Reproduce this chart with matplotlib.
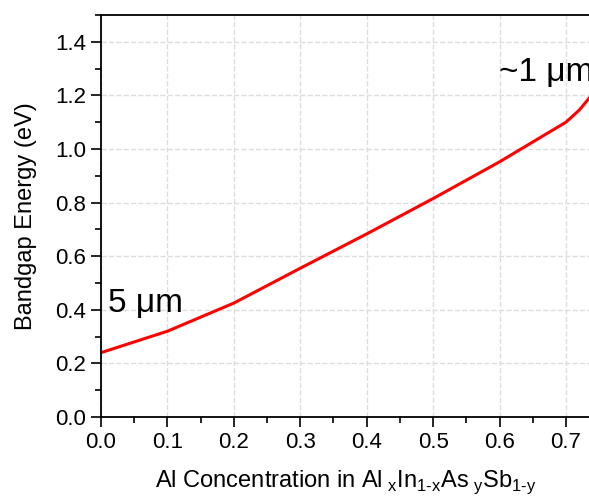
import matplotlib
matplotlib.use('Agg')
import matplotlib.pyplot as plt
from matplotlib.ticker import MultipleLocator, FormatStrFormatter

plt.rcParams['font.family'] = ['Liberation Sans', 'DejaVu Sans']
plt.rcParams['mathtext.fontset'] = 'custom'
plt.rcParams['mathtext.rm'] = 'Liberation Sans'

# bandgap vs Al fraction
al_frac = [0.0, 0.1, 0.2, 0.3, 0.4, 0.5, 0.6, 0.7, 0.72, 0.74, 0.76]
bandgap = [0.24, 0.32, 0.425, 0.555, 0.683, 0.815, 0.952, 1.10, 1.145, 1.205, 1.27]

fig = plt.figure(figsize=(5.89, 4.98), dpi=100)
ax = fig.add_axes([0.1715, 0.1627, 0.83, 0.8072])

ax.plot(al_frac, bandgap, color='red', lw=2.2)

ax.set_xlim(0, 0.736)
ax.set_ylim(0, 1.5)
ax.xaxis.set_major_locator(MultipleLocator(0.1))
ax.xaxis.set_minor_locator(MultipleLocator(0.05))
ax.yaxis.set_major_locator(MultipleLocator(0.2))
ax.yaxis.set_minor_locator(MultipleLocator(0.1))
ax.tick_params(which='major', direction='out', length=7, width=1.2, labelsize=16)
ax.tick_params(which='minor', direction='out', length=4, width=1.2)
ax.xaxis.set_major_formatter(FormatStrFormatter('%.1f'))
ax.yaxis.set_major_formatter(FormatStrFormatter('%.1f'))

ax.grid(True, which='major', ls='--', color='#dddddd', lw=1)
ax.set_axisbelow(True)
for s in ['left', 'bottom', 'top']:
    ax.spines[s].set_linewidth(1.3)
ax.spines['right'].set_visible(False)

ax.text(0.011, 0.424, '5 μm', fontsize=24, va='center', ha='left')
ax.text(0.599, 1.284, '~1 μm', fontsize=24, va='center', ha='left')

ax.set_ylabel('Bandgap Energy (eV)', fontsize=17)
ax.yaxis.set_label_coords(-0.131, 0.5)
fig.text(346 / 589, 1 - 482 / 498,
         r'Al Concentration in Al$_\mathregular{\ x}$In$_\mathregular{\text{1-x}}$'
         r'As$_\mathregular{\ y}$Sb$_\mathregular{\text{1-y}}$',
         fontsize=17, ha='center', va='center')

fig.savefig('out.png', dpi=100)
